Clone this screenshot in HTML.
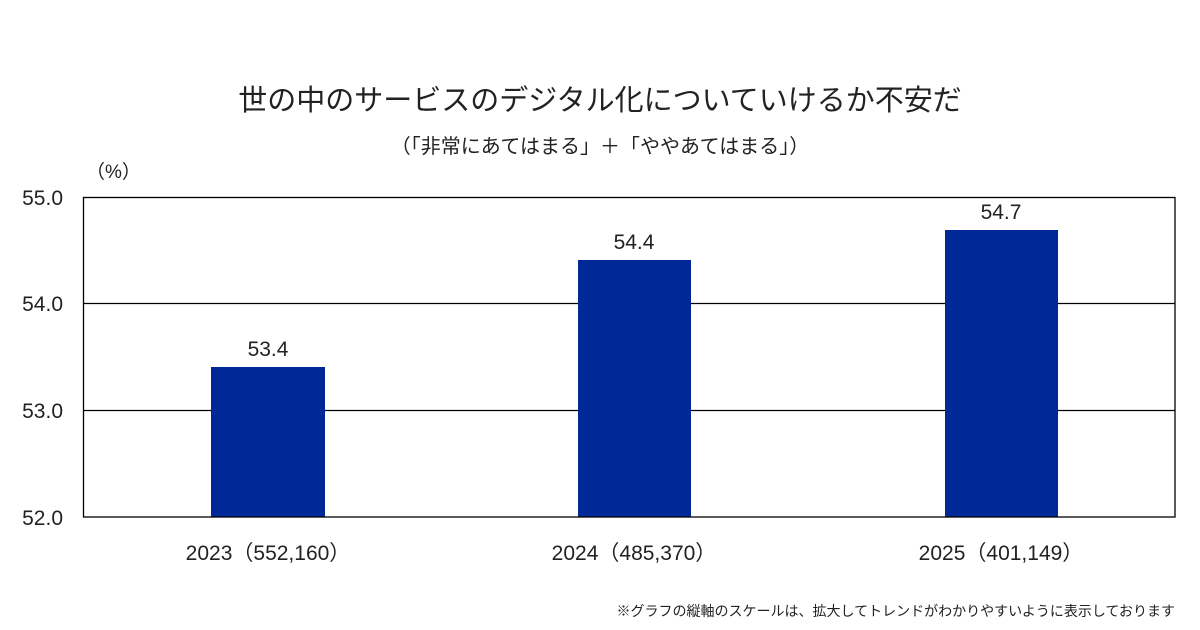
<!DOCTYPE html>
<html><head><meta charset="utf-8"><style>
body{margin:0;background:#fff;}
svg{display:block;font-family:"Liberation Sans","Noto Sans CJK JP",sans-serif;}
</style></head><body>
<svg width="1200" height="630" xmlns="http://www.w3.org/2000/svg">
<rect width="1200" height="630" fill="#fff"/>
<text x="600" y="110" font-size="29" text-anchor="middle" fill="#222">世の中のサービスのデジタル化についていけるか不安だ</text>
<text x="600" y="153" font-size="20" text-anchor="middle" fill="#222">（「非常にあてはまる」＋「ややあてはまる」）</text>
<text x="86" y="178" font-size="19" fill="#222">（%）</text>
<g stroke="#000" stroke-width="1.3">
<line x1="83" y1="303.5" x2="1175" y2="303.5"/>
<line x1="83" y1="410.5" x2="1175" y2="410.5"/>
</g>
<rect x="211" y="367" width="114" height="150" fill="#002896"/>
<rect x="578" y="260" width="113" height="257" fill="#002896"/>
<rect x="945" y="230" width="113" height="287" fill="#002896"/>
<rect x="83.5" y="197.5" width="1091.5" height="319.5" fill="none" stroke="#000" stroke-width="1.3"/>
<g font-size="21" fill="#222" text-anchor="end">
<text x="63" y="205">55.0</text>
<text x="63" y="311">54.0</text>
<text x="63" y="418">53.0</text>
<text x="63" y="525">52.0</text>
</g>
<g font-size="21" fill="#222" text-anchor="middle">
<text x="268" y="356">53.4</text>
<text x="634" y="249">54.4</text>
<text x="1001" y="219">54.7</text>
</g>
<g font-size="21" fill="#222" text-anchor="middle">
<text x="268" y="560">2023（552,160）</text>
<text x="634" y="560">2024（485,370）</text>
<text x="1001" y="560">2025（401,149）</text>
</g>
<text x="1175" y="616" font-size="14" text-anchor="end" fill="#222">※グラフの縦軸のスケールは、拡大してトレンドがわかりやすいように表示しております</text>
</svg>
</body></html>
